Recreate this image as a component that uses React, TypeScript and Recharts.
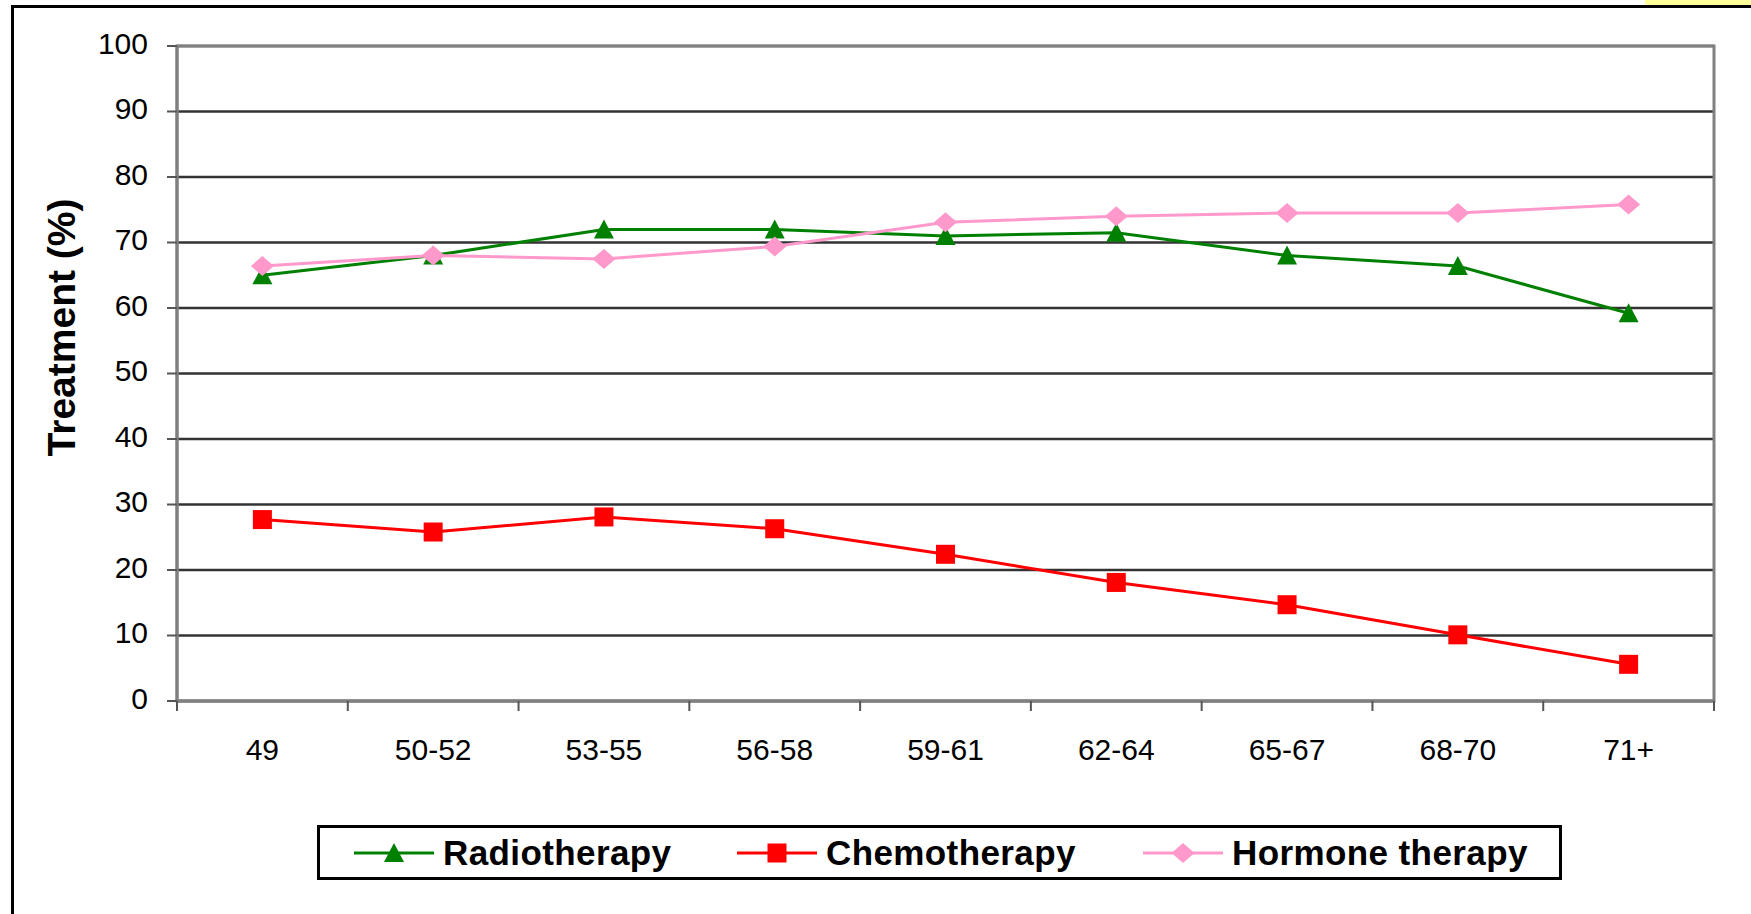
import React from "react";
import {
  LineChart,
  Line,
  XAxis,
  YAxis,
  CartesianGrid,
  ReferenceArea,
} from "recharts";

// Treatment share (%) by age group, three therapy lines.

const ageGroups = ["49", "50-52", "53-55", "56-58", "59-61", "62-64", "65-67", "68-70", "71+"];
const radiotherapy = [65, 68, 72, 72, 71, 71.5, 68, 66.4, 59.2];
const chemotherapy = [27.7, 25.8, 28.1, 26.3, 22.4, 18.1, 14.7, 10.1, 5.6];
const hormoneTherapy = [66.4, 68, 67.5, 69.4, 73.1, 74, 74.5, 74.5, 75.8];
const yTicks = [0, 10, 20, 30, 40, 50, 60, 70, 80, 90, 100];

const data = ageGroups.map((age, i) => ({
  age,
  radio: radiotherapy[i],
  chemo: chemotherapy[i],
  hormone: hormoneTherapy[i],
}));

const W = 1751;
const H = 914;
const MARGIN = { top: 46, right: 37, left: 0, bottom: 113 };
const Y_AXIS_W = 177;
const X_AXIS_H = 100;
const PLOT_W = W - MARGIN.left - MARGIN.right - Y_AXIS_W;
const BAND = PLOT_W / ageGroups.length;

const FONT = "'Liberation Sans', Arial, sans-serif";
const GREEN = "#008000";
const RED = "#ff0000";
const PINK = "#ff99cc";
const AXIS_GREY = "#808080";

const triangle = (cx: number, cy: number, fill: string, key?: string) => (
  <polygon
    key={key}
    points={`${cx},${cy - 10} ${cx + 10},${cy + 9} ${cx - 10},${cy + 9}`}
    fill={fill}
  />
);
const square = (cx: number, cy: number, fill: string, key?: string) => (
  <rect key={key} x={cx - 9.5} y={cy - 9.5} width={19} height={19} fill={fill} />
);
const diamond = (cx: number, cy: number, fill: string, key?: string) => (
  <polygon
    key={key}
    points={`${cx},${cy - 10} ${cx + 11.5},${cy} ${cx},${cy + 10} ${cx - 11.5},${cy}`}
    fill={fill}
  />
);

const dotFor =
  (shape: typeof triangle, fill: string) =>
  (props: any) => {
    const { cx, cy, index } = props;
    if (cx == null || cy == null) return <g key={`d-${index}`} />;
    return shape(cx, cy, fill, `d-${index}`);
  };

function XTick(props: any) {
  const { x, y, payload, index } = props;
  const left = x - BAND / 2;
  return (
    <g>
      <line x1={left} y1={y} x2={left} y2={y + 10} stroke="#555" strokeWidth={2} />
      {index === ageGroups.length - 1 && (
        <line x1={x + BAND / 2} y1={y} x2={x + BAND / 2} y2={y + 10} stroke="#555" strokeWidth={2} />
      )}
      <text x={x} y={y + 59} textAnchor="middle" fontFamily={FONT} fontSize={30} fill="#000">
        {payload.value}
      </text>
    </g>
  );
}

function YTick(props: any) {
  const { x, y, payload } = props;
  return (
    <text x={x} y={y - 3} textAnchor="end" dominantBaseline="central" fontFamily={FONT} fontSize={30} fill="#000">
      {payload.value}
    </text>
  );
}

function YLabel(props: any) {
  const { viewBox } = props;
  const cx = 61;
  const cy = viewBox.y + viewBox.height / 2 - 46;
  return (
    <text
      x={cx}
      y={cy}
      transform={`rotate(-90, ${cx}, ${cy})`}
      textAnchor="middle"
      dominantBaseline="central"
      fontFamily={FONT}
      fontWeight="bold"
      fontSize={39}
      fill="#000"
    >
      Treatment (%)
    </text>
  );
}

const legendItems = [
  { name: "Radiotherapy", color: GREEN, shape: triangle, left: 37 },
  { name: "Chemotherapy", color: RED, shape: square, left: 420 },
  { name: "Hormone therapy", color: PINK, shape: diamond, left: 826 },
];

function LegendBox() {
  return (
    <div
      style={{
        position: "absolute",
        left: 317,
        top: 825,
        width: 1245,
        height: 55,
        boxSizing: "border-box",
        border: "3px solid #000",
        background: "#fff",
        fontFamily: FONT,
        fontWeight: "bold",
        fontSize: 35,
        letterSpacing: 0.4,
      }}
    >
      {legendItems.map((it) => (
        <div
          key={it.name}
          style={{
            position: "absolute",
            left: it.left - 3,
            top: 0,
            height: 49,
            display: "flex",
            alignItems: "center",
            whiteSpace: "nowrap",
          }}
        >
          <svg width={80} height={30} style={{ marginRight: 9 }}>
            <line x1={0} y1={15} x2={80} y2={15} stroke={it.color} strokeWidth={3} />
            {it.shape(40, 15, it.color)}
          </svg>
          <span>{it.name}</span>
        </div>
      ))}
    </div>
  );
}

export default function App() {
  return (
    <div
      style={{
        position: "absolute",
        left: 0,
        top: 0,
        width: W,
        height: H,
        overflow: "hidden",
        background: "#fff",
      }}
    >
      <div style={{ position: "absolute", left: 1645, top: 0, width: 106, height: 5, background: "#ffff99" }} />
      <div
        style={{
          position: "absolute",
          left: 11,
          top: 5,
          width: 1800,
          height: 1000,
          border: "3px solid #000",
        }}
      />
      <div style={{ position: "absolute", left: 0, top: 0 }}>
        <LineChart width={W} height={H} data={data} margin={MARGIN}>
          <CartesianGrid vertical={false} stroke="#333" strokeWidth={2.5} />
          <ReferenceArea
            y1={0}
            y2={100}
            fill="none"
            stroke={AXIS_GREY}
            strokeWidth={3}
            ifOverflow="visible"
          />
          <XAxis
            dataKey="age"
            scale="band"
            height={X_AXIS_H}
            tickLine={false}
            tickSize={0}
            tickMargin={0}
            axisLine={{ stroke: AXIS_GREY, strokeWidth: 3 }}
            tick={<XTick />}
            interval={0}
          />
          <YAxis
            width={Y_AXIS_W}
            domain={[0, 100]}
            ticks={yTicks}
            interval={0}
            tickSize={10}
            tickMargin={19}
            tickLine={{ stroke: "#555", strokeWidth: 2 }}
            axisLine={{ stroke: AXIS_GREY, strokeWidth: 3 }}
            tick={<YTick />}
            label={<YLabel />}
          />
          <Line
            dataKey="radio"
            stroke={GREEN}
            strokeWidth={3}
            dot={dotFor(triangle, GREEN)}
            activeDot={false}
            isAnimationActive={false}
          />
          <Line
            dataKey="chemo"
            stroke={RED}
            strokeWidth={3}
            dot={dotFor(square, RED)}
            activeDot={false}
            isAnimationActive={false}
          />
          <Line
            dataKey="hormone"
            stroke={PINK}
            strokeWidth={3}
            dot={dotFor(diamond, PINK)}
            activeDot={false}
            isAnimationActive={false}
          />
        </LineChart>
      </div>
      <LegendBox />
    </div>
  );
}
